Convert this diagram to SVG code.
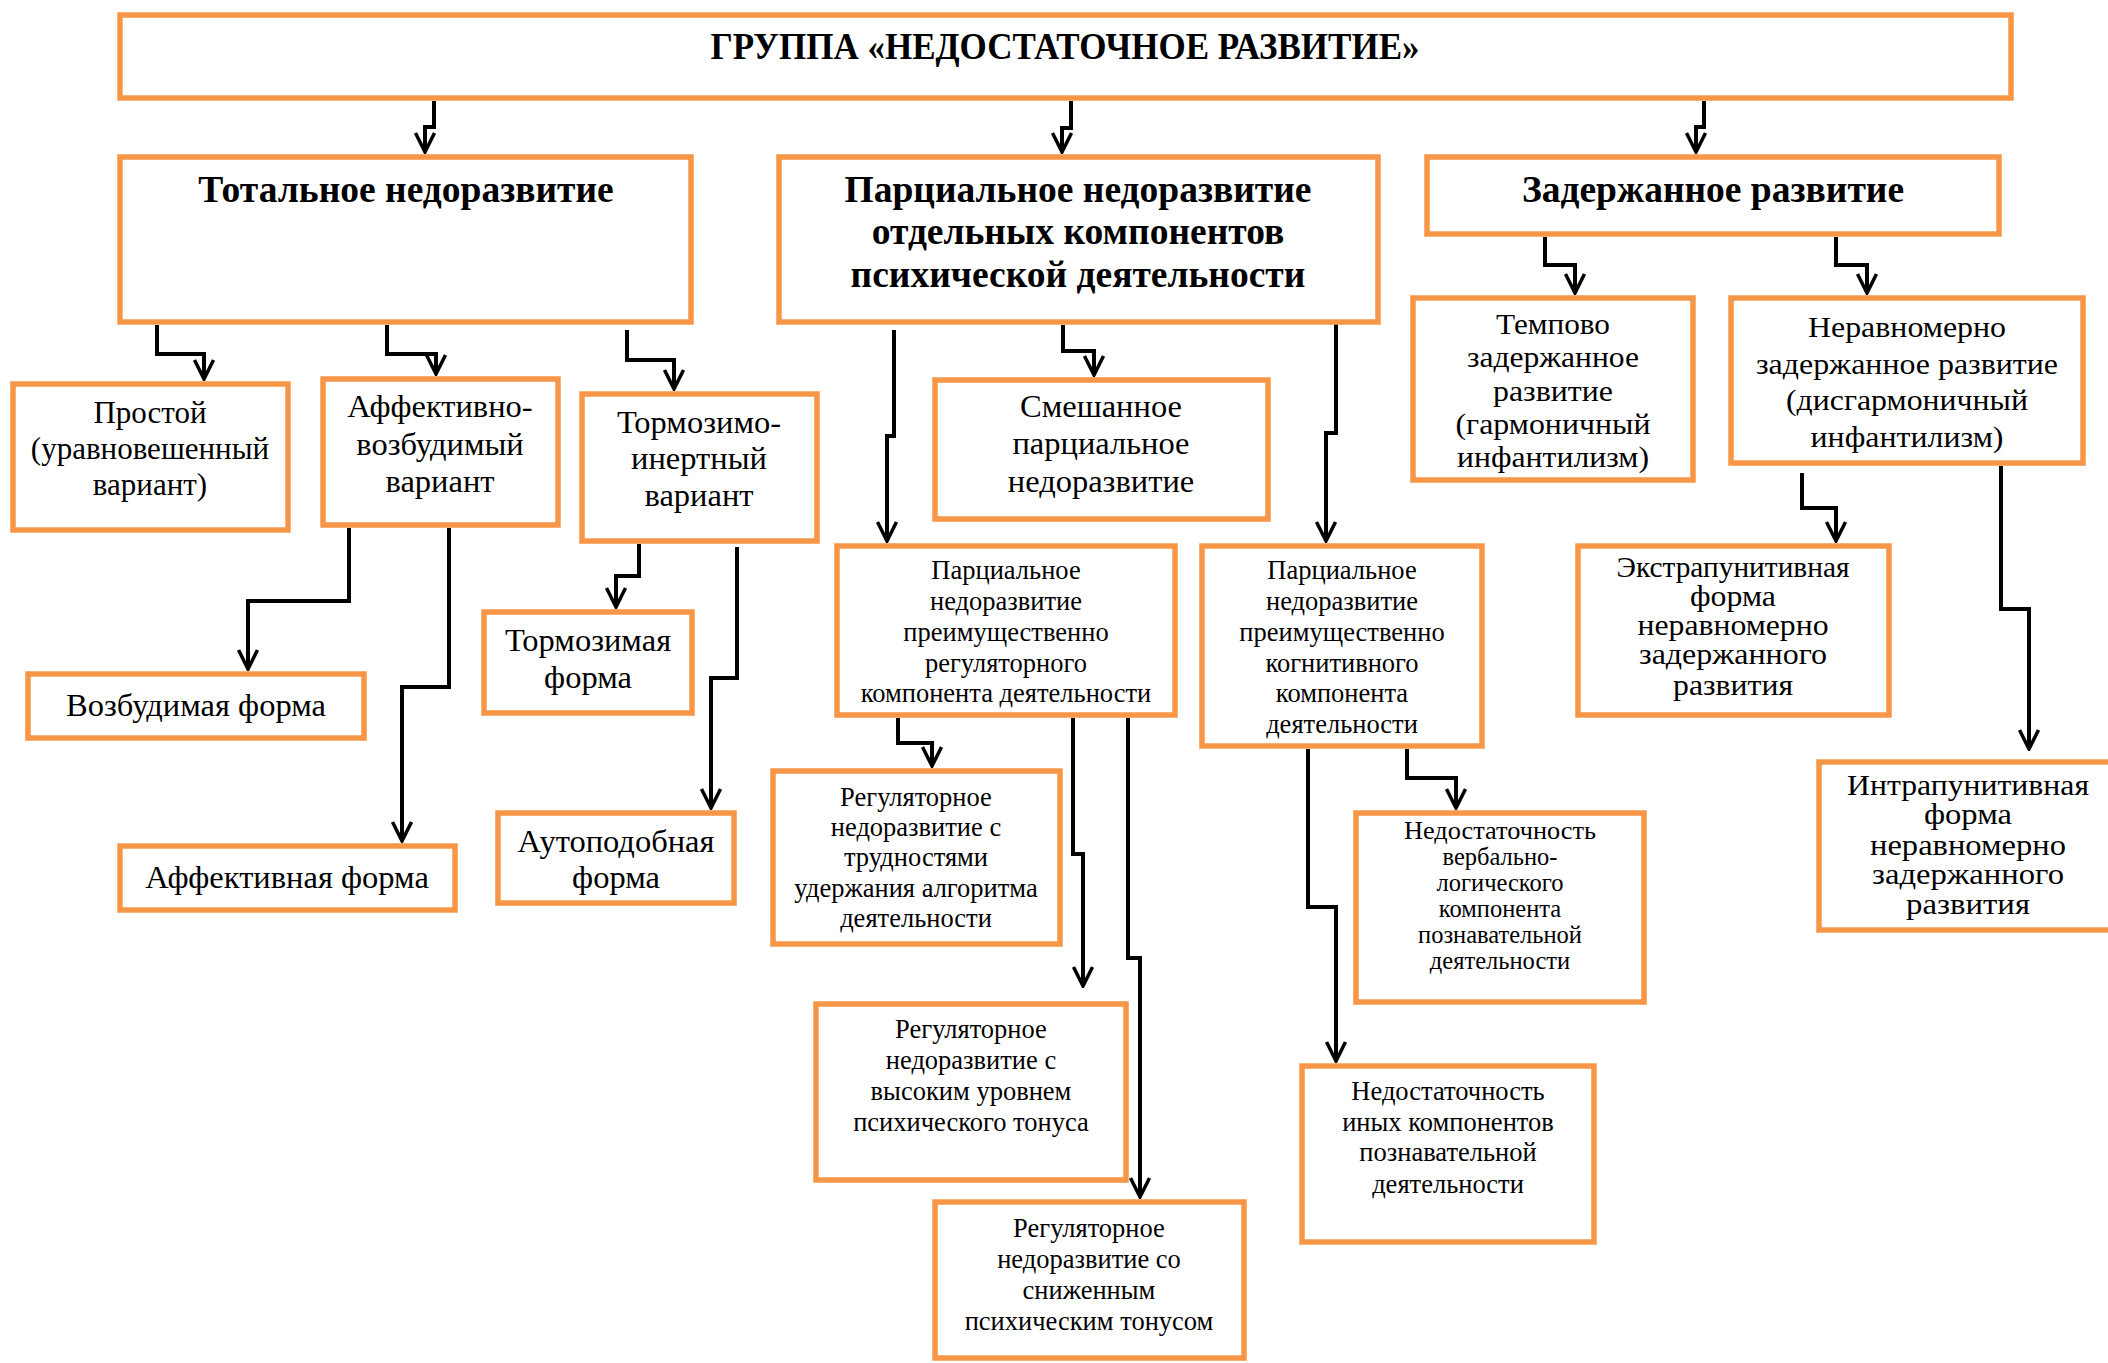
<svg xmlns="http://www.w3.org/2000/svg" width="2108" height="1363" viewBox="0 0 2108 1363">
<style>
.box{fill:#fff;stroke:#F79646;stroke-width:5.5}
.t{font-family:"Liberation Serif","Times New Roman",serif;fill:#000;text-anchor:middle}
.h{font-size:37.5px;font-weight:bold}
.m{font-size:32.5px}
.p{font-size:31px}
.s{font-size:26.5px}
.v{font-size:24.5px}
.w{font-size:29px}
.c{fill:none;stroke:#000;stroke-width:4;marker-end:url(#arr)}
</style>
<defs>
<marker id="arr" viewBox="-24 -12 26 24" refX="0" refY="0" markerWidth="26" markerHeight="24" markerUnits="userSpaceOnUse" orient="auto">
<path d="M-19,-9.5 L0,0 L-19,9.5" fill="none" stroke="#000" stroke-width="3.5"/>
</marker>
</defs>
<rect width="2108" height="1363" fill="#fff"/>

<g id="connectors">
<polyline class="c" points="434,101 434,127 425,127 425,152"/>
<polyline class="c" points="1071,101 1071,128 1062,128 1062,152"/>
<polyline class="c" points="1704,101 1704,127 1696,127 1696,152"/>
<polyline class="c" points="157,325 157,354 204,354 204,379"/>
<polyline class="c" points="387,325 387,354 436,354 436,374"/>
<polyline class="c" points="627,330 627,360 674,360 674,389"/>
<polyline class="c" points="349,528 349,601 248,601 248,669"/>
<polyline class="c" points="449,528 449,687 402,687 402,841"/>
<polyline class="c" points="639,544 639,576 616,576 616,607"/>
<polyline class="c" points="737,547 737,678 711,678 711,808"/>
<polyline class="c" points="894,330 894,436 887,436 887,541"/>
<polyline class="c" points="1063,325 1063,351 1094,351 1094,375"/>
<polyline class="c" points="1336,323 1336,433 1326,433 1326,541"/>
<polyline class="c" points="898,718 898,743 932,743 932,766"/>
<polyline class="c" points="1073,718 1073,854 1083,854 1083,986"/>
<polyline class="c" points="1128,718 1128,958 1140,958 1140,1197"/>
<polyline class="c" points="1308,749 1308,907 1336,907 1336,1061"/>
<polyline class="c" points="1407,749 1407,778 1456,778 1456,808"/>
<polyline class="c" points="1545,237 1545,265 1575,265 1575,293"/>
<polyline class="c" points="1836,237 1836,265 1867,265 1867,293"/>
<polyline class="c" points="1802,473 1802,508 1836,508 1836,541"/>
<polyline class="c" points="2001,466 2001,609 2029,609 2029,749"/>
</g>

<g id="n-top">
<rect class="box" x="120" y="15" width="1891" height="83"/>
<text class="t h" x="1065" y="59" textLength="709" lengthAdjust="spacingAndGlyphs">ГРУППА «НЕДОСТАТОЧНОЕ РАЗВИТИЕ»</text>
</g>
<g id="n-total">
<rect class="box" x="120" y="157" width="571" height="165"/>
<text class="t h" x="406" y="202">Тотальное недоразвитие</text>
</g>
<g id="n-partial">
<rect class="box" x="779" y="157" width="599" height="165"/>
<text class="t h" x="1078" y="202">Парциальное недоразвитие</text>
<text class="t h" x="1078" y="244">отдельных компонентов</text>
<text class="t h" x="1078" y="287">психической деятельности</text>
</g>
<g id="n-delayed">
<rect class="box" x="1427" y="157" width="572" height="77"/>
<text class="t h" x="1713" y="202">Задержанное развитие</text>
</g>
<g id="n-simple">
<rect class="box" x="13" y="384" width="275" height="146"/>
<text class="t p" x="150" y="423">Простой</text>
<text class="t p" x="150" y="459">(уравновешенный</text>
<text class="t p" x="150" y="495">вариант)</text>
</g>
<g id="n-affexc">
<rect class="box" x="323" y="379" width="235" height="146"/>
<text class="t m" x="440" y="417">Аффективно-</text>
<text class="t m" x="440" y="455">возбудимый</text>
<text class="t m" x="440" y="492">вариант</text>
</g>
<g id="n-inhib">
<rect class="box" x="582" y="394" width="235" height="147"/>
<text class="t m" x="699" y="433">Тормозимо-</text>
<text class="t m" x="699" y="469">инертный</text>
<text class="t m" x="699" y="506">вариант</text>
</g>
<g id="n-excform">
<rect class="box" x="28" y="674" width="336" height="64"/>
<text class="t m" x="196" y="716">Возбудимая форма</text>
</g>
<g id="n-affform">
<rect class="box" x="120" y="846" width="335" height="64"/>
<text class="t m" x="287" y="888">Аффективная форма</text>
</g>
<g id="n-inhform">
<rect class="box" x="484" y="612" width="208" height="101"/>
<text class="t m" x="588" y="651">Тормозимая</text>
<text class="t m" x="588" y="688">форма</text>
</g>
<g id="n-autoform">
<rect class="box" x="498" y="813" width="236" height="90"/>
<text class="t m" x="616" y="852">Аутоподобная</text>
<text class="t m" x="616" y="888">форма</text>
</g>
<g id="n-mixed">
<rect class="box" x="935" y="380" width="333" height="139"/>
<text class="t m" x="1101" y="417">Смешанное</text>
<text class="t m" x="1101" y="454">парциальное</text>
<text class="t m" x="1101" y="492">недоразвитие</text>
</g>
<g id="n-regul">
<rect class="box" x="837" y="546" width="338" height="169"/>
<text class="t s" x="1006" y="579">Парциальное</text>
<text class="t s" x="1006" y="610">недоразвитие</text>
<text class="t s" x="1006" y="641">преимущественно</text>
<text class="t s" x="1006" y="672">регуляторного</text>
<text class="t s" x="1006" y="702">компонента деятельности</text>
</g>
<g id="n-cogn">
<rect class="box" x="1202" y="546" width="280" height="200"/>
<text class="t s" x="1342" y="579">Парциальное</text>
<text class="t s" x="1342" y="610">недоразвитие</text>
<text class="t s" x="1342" y="641">преимущественно</text>
<text class="t s" x="1342" y="672">когнитивного</text>
<text class="t s" x="1342" y="702">компонента</text>
<text class="t s" x="1342" y="733">деятельности</text>
</g>
<g id="n-reg1">
<rect class="box" x="773" y="771" width="287" height="173"/>
<text class="t s" x="916" y="806">Регуляторное</text>
<text class="t s" x="916" y="836">недоразвитие с</text>
<text class="t s" x="916" y="866">трудностями</text>
<text class="t s" x="916" y="897">удержания алгоритма</text>
<text class="t s" x="916" y="927">деятельности</text>
</g>
<g id="n-reg2">
<rect class="box" x="816" y="1004" width="310" height="176"/>
<text class="t s" x="971" y="1038">Регуляторное</text>
<text class="t s" x="971" y="1069">недоразвитие с</text>
<text class="t s" x="971" y="1100">высоким уровнем</text>
<text class="t s" x="971" y="1131">психического тонуса</text>
</g>
<g id="n-reg3">
<rect class="box" x="935" y="1202" width="309" height="156"/>
<text class="t s" x="1089" y="1237">Регуляторное</text>
<text class="t s" x="1089" y="1268">недоразвитие со</text>
<text class="t s" x="1089" y="1299">сниженным</text>
<text class="t s" x="1089" y="1330">психическим тонусом</text>
</g>
<g id="n-verbal">
<rect class="box" x="1356" y="813" width="288" height="189"/>
<text class="t v" x="1500" y="839" textLength="192" lengthAdjust="spacingAndGlyphs">Недостаточность</text>
<text class="t v" x="1500" y="865">вербально-</text>
<text class="t v" x="1500" y="891">логического</text>
<text class="t v" x="1500" y="917">компонента</text>
<text class="t v" x="1500" y="943">познавательной</text>
<text class="t v" x="1500" y="969">деятельности</text>
</g>
<g id="n-other">
<rect class="box" x="1302" y="1066" width="292" height="176"/>
<text class="t s" x="1448" y="1100">Недостаточность</text>
<text class="t s" x="1448" y="1131">иных компонентов</text>
<text class="t s" x="1448" y="1161">познавательной</text>
<text class="t s" x="1448" y="1193">деятельности</text>
</g>
<g id="n-tempo">
<rect class="box" x="1413" y="298" width="280" height="182"/>
<text class="t w" x="1553" y="334" textLength="114" lengthAdjust="spacingAndGlyphs">Темпово</text>
<text class="t w" x="1553" y="367" textLength="172" lengthAdjust="spacingAndGlyphs">задержанное</text>
<text class="t w" x="1553" y="401" textLength="120" lengthAdjust="spacingAndGlyphs">развитие</text>
<text class="t w" x="1553" y="434" textLength="195" lengthAdjust="spacingAndGlyphs">(гармоничный</text>
<text class="t w" x="1553" y="467" textLength="192" lengthAdjust="spacingAndGlyphs">инфантилизм)</text>
</g>
<g id="n-uneven">
<rect class="box" x="1731" y="298" width="352" height="165"/>
<text class="t w" x="1907" y="337" textLength="198" lengthAdjust="spacingAndGlyphs">Неравномерно</text>
<text class="t w" x="1907" y="374" textLength="302" lengthAdjust="spacingAndGlyphs">задержанное развитие</text>
<text class="t w" x="1907" y="410" textLength="242" lengthAdjust="spacingAndGlyphs">(дисгармоничный</text>
<text class="t w" x="1907" y="447" textLength="193" lengthAdjust="spacingAndGlyphs">инфантилизм)</text>
</g>
<g id="n-extra">
<rect class="box" x="1578" y="546" width="311" height="169"/>
<text class="t w" x="1733" y="577" textLength="233" lengthAdjust="spacingAndGlyphs">Экстрапунитивная</text>
<text class="t w" x="1733" y="606" textLength="86" lengthAdjust="spacingAndGlyphs">форма</text>
<text class="t w" x="1733" y="635" textLength="191" lengthAdjust="spacingAndGlyphs">неравномерно</text>
<text class="t w" x="1733" y="664" textLength="188" lengthAdjust="spacingAndGlyphs">задержанного</text>
<text class="t w" x="1733" y="695" textLength="120" lengthAdjust="spacingAndGlyphs">развития</text>
</g>
<g id="n-intra">
<rect class="box" x="1819" y="762" width="310" height="168"/>
<text class="t w" x="1968" y="795" textLength="242" lengthAdjust="spacingAndGlyphs">Интрапунитивная</text>
<text class="t w" x="1968" y="824" textLength="88" lengthAdjust="spacingAndGlyphs">форма</text>
<text class="t w" x="1968" y="855" textLength="196" lengthAdjust="spacingAndGlyphs">неравномерно</text>
<text class="t w" x="1968" y="884" textLength="192" lengthAdjust="spacingAndGlyphs">задержанного</text>
<text class="t w" x="1968" y="914" textLength="124" lengthAdjust="spacingAndGlyphs">развития</text>
</g>
</svg>
